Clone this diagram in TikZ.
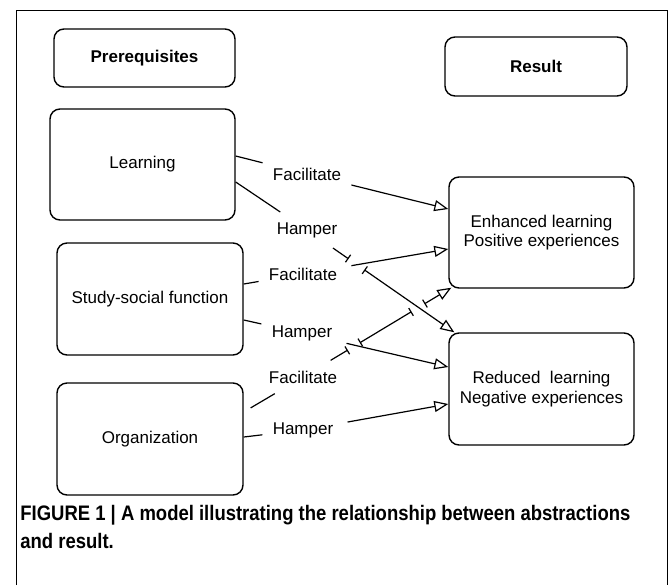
\documentclass[tikz,border=0pt]{standalone}
\usepackage{fontspec}
\setmainfont{Liberation Sans}
\newfontfamily\capfont[FakeStretch=0.88]{Liberation Sans}
\usetikzlibrary{arrows.meta,calc}

\begin{document}
\begin{tikzpicture}[x=0.5pt,y=-0.5pt,
      b/.style={draw,rounded corners=5pt,line width=0.7pt,align=center,font=\fontsize{8.5}{9.8}\selectfont,inner sep=0pt},
      hb/.style={b,font=\fontsize{8.5}{9.8}\selectfont\bfseries},
      l/.style={font=\fontsize{8.5}{10}\selectfont,inner sep=5pt},
      c/.style={line width=0.6pt},
      tb/.style={-{Bar[width=4.5pt]}},
      ba/.style={{Bar[width=4.5pt]}->},
      bb/.style={{Bar[width=4.5pt]}-{Bar[width=4.5pt]}},
      >={Triangle[open,length=7pt,width=5.5pt]}]
  \useasboundingbox (0,0) rectangle (670,585);
  \draw[line width=0.5pt] (16,585) -- (16,10) -- (667,10) -- (667,585);
  % headings
  \node[hb,minimum width=90.5pt,minimum height=29pt] (pre) at (144.5,58) {Prerequisites};
  \node[hb,minimum width=91pt,minimum height=29.5pt] (res) at (536,66.5) {Result};
  % prerequisites and results
  \node[b,minimum width=92.5pt,minimum height=55.5pt] (learn) at (142.5,164.5) {Learning};
  \node[b,minimum width=93pt,minimum height=56pt] (study) at (150,299) {Study-social function};
  \node[b,minimum width=93pt,minimum height=56pt] (org) at (150,439) {Organization};
  \node[b,minimum width=92.5pt,minimum height=55.5pt] (enh) at (541.5,232.5) {Enhanced learning\\Positive experiences};
  \node[b,minimum width=92.5pt,minimum height=56pt] (red) at (541.5,389) {Reduced\ \ learning\\Negative experiences};
  % edge labels
  \node[l] (fac1) at (307,174) {Facilitate};
  \node[l] (ham1) at (307,230) {Hamper};
  \node[l] (fac2) at (303,274) {Facilitate};
  \node[l] (ham2) at (302,333) {Hamper};
  \node[l] (fac3) at (303,377) {Facilitate};
  \node[l] (ham3) at (303,430) {Hamper};
  \coordinate (e2) at ([xshift=3pt]red.north west);
  \coordinate (e3) at ([xshift=1.5pt,yshift=0.5pt]enh.south west);
  % connectors
  \draw[c,->] (learn.east |- 0,156) -- (fac1) -- (enh.west |- 0,209);
  \draw[c] (learn.east |- 0,182) -- (ham1);
  \draw[c,tb] (ham1) -- ($(ham1)!0.282!(e2)$); \draw[c,ba] ($(ham1)!0.389!(e2)$) -- (e2);
  \draw[c,->,shorten <=2pt] (study.east |- 0,284) -- (fac2) -- (enh.west |- 0,249);
  \draw[c,->,shorten <=2pt] (study.east |- 0,320) -- (ham2) -- (red.west |- 0,367);
  \draw[c,shorten <=4pt] (org.east |- 0,412) -- (fac3);
  \draw[c,tb] (fac3) -- ($(fac3)!0.302!(e3)$);
  \draw[c,bb] ($(fac3)!0.383!(e3)$) -- ($(fac3)!0.732!(e3)$);
  \draw[c,ba] ($(fac3)!0.819!(e3)$) -- (e3);
  \draw[c,->,shorten <=2pt] (org.east |- 0,437) -- (ham3) -- (red.west |- 0,404);
  % caption
  \node[anchor=base west,inner sep=0pt,font=\capfont\fontsize{10.5}{14}\selectfont\bfseries] (cap1) at (20,520) {FIGURE 1 | A model illustrating the relationship between abstractions};
  \node[anchor=base west,inner sep=0pt,font=\capfont\fontsize{10.5}{14}\selectfont\bfseries] (cap2) at (20,548) {and result.};
\end{tikzpicture}
\end{document}
